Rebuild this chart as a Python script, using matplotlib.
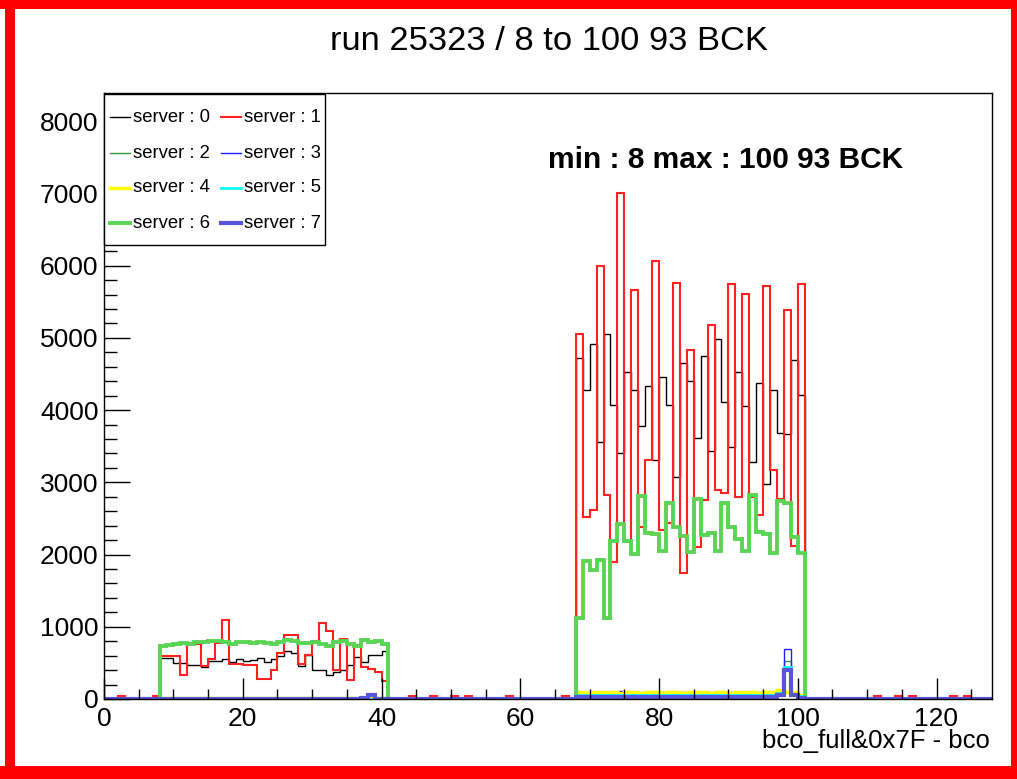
import numpy as np
import matplotlib
matplotlib.use('Agg')
import matplotlib.pyplot as plt
from matplotlib.lines import Line2D
from matplotlib.patches import Rectangle

plt.rcParams['font.family'] = ['Liberation Sans', 'DejaVu Sans']

W, H = 1017, 779
nbins = 128
edges = np.arange(nbins + 1)
left_start = 8      # first filled bin of the low block
right_start = 68    # first filled bin of the high block

# ---- bin contents (bins 8..40 and 68..100) ----
srv0_left = [565, 565, 495, 495, 472, 472, 449, 528, 528, 551, 509, 551, 520, 540, 574, 519, 551,
             597, 667, 643, 458, 611, 403, 403, 333, 380, 403, 472, 588, 519, 611, 611, 667]
srv0_right = [4715, 4282, 4910, 3553, 5048, 4077, 3407, 4525, 4282, 3773, 4333, 3310, 4460, 4077, 3071, 4655, 4398,
              3616, 4750, 3440, 4986, 4106, 3486, 4523, 4051, 3282, 4370, 2977, 4282, 3681, 3662, 4699, 4208]

srv1_left = [600, 600, 600, 330, 760, 760, 450, 550, 780, 1100, 480, 480, 470, 470, 270, 270, 400,
             643, 889, 889, 481, 611, 806, 1051, 935, 403, 829, 264, 750, 440, 412, 380, 250]
srv1_right = [5050, 2520, 2610, 5990, 2820, 1890, 7000, 2170, 5660, 2380, 3310, 6060, 2340, 2440, 5760, 1750, 4830,
              2100, 2760, 5180, 2900, 2850, 5740, 2790, 5610, 2790, 2550, 5720, 3170, 2770, 5390, 2120, 5740]
srv1_stray_bins = [2, 7, 44, 47, 50, 52, 58, 66, 111, 114, 116, 122, 124]
srv1_stray = [35, 35, 35, 35, 35, 35, 35, 35, 35, 35, 35, 35, 35]

srv2_left = [5, 5, 5, 5, 5, 5, 5, 5, 5, 5, 5, 5, 5, 5, 5, 5, 5,
             5, 5, 5, 5, 5, 5, 5, 5, 5, 5, 5, 5, 5, 5, 5, 5]
srv2_right = [60, 60, 70, 60, 60, 70, 60, 60, 70, 60, 60, 70, 60, 60, 70, 60, 60,
              60, 70, 60, 60, 60, 70, 60, 60, 70, 60, 60, 40, 60, 520, 60, 50]

srv3_left = [5, 10, 15, 15, 10, 5, 5, 5, 5, 5, 5, 5, 5, 5, 5, 5, 15,
             15, 5, 5, 5, 5, 15, 5, 5, 5, 5, 5, 5, 5, 20, 20, 5]
srv3_right = [80, 50, 90, 60, 90, 80, 110, 100, 60, 80, 100, 80, 90, 60, 100, 90, 80,
              100, 90, 70, 80, 90, 100, 80, 60, 80, 90, 100, 60, 90, 694, 80, 60]

srv4_left = [18, 18, 18, 18, 18, 18, 18, 18, 18, 18, 18, 18, 18, 18, 18, 18, 18,
             18, 18, 18, 18, 18, 18, 18, 18, 18, 18, 18, 18, 18, 18, 18, 18]
srv4_right = [90, 80, 90, 100, 90, 90, 80, 90, 90, 80, 90, 90, 80, 90, 90, 80, 90,
              90, 90, 80, 90, 90, 80, 90, 90, 90, 80, 90, 90, 130, 90, 90, 60]

srv5_left = [3, 3, 3, 3, 3, 3, 3, 3, 3, 3, 3, 3, 3, 3, 3, 3, 3,
             3, 3, 3, 3, 3, 3, 3, 3, 3, 3, 3, 3, 3, 3, 3, 3]
srv5_right = [50, 50, 50, 50, 50, 50, 50, 50, 50, 50, 50, 50, 50, 50, 50, 50, 50,
              50, 50, 50, 50, 50, 50, 50, 50, 50, 50, 50, 50, 80, 440, 60, 40]

srv6_left = [730, 750, 760, 770, 760, 790, 790, 800, 800, 790, 760, 790, 790, 780, 790, 770, 760,
             790, 810, 800, 780, 770, 790, 760, 730, 790, 800, 760, 740, 820, 790, 800, 760]
srv6_right = [1120, 1907, 1792, 1921, 1120, 2181, 2417, 2181, 2009, 2815, 2292, 2278, 2051, 2718, 2380, 2250, 2035,
              2773, 2264, 2292, 2051, 2718, 2380, 2213, 2051, 2819, 2310, 2278, 2018, 2741, 2718, 2240, 2023]

srv7_left = [0, 0, 0, 0, 0, 0, 0, 0, 0, 0, 0, 0, 0, 0, 0, 0, 0,
             0, 0, 0, 0, 0, 0, 0, 0, 0, 0, 0, 0, 15, 55, 0, 0]
srv7_right = [30, 30, 30, 30, 30, 30, 30, 30, 30, 30, 30, 30, 30, 30, 30, 30, 30,
              30, 30, 30, 30, 30, 30, 30, 30, 30, 30, 30, 30, 60, 400, 50, 20]

servers = ['0', '1', '2', '3', '4', '5', '6', '7']
colors = ['#000000', '#ff2020', '#339933', '#2020ff', '#ffff00', '#00ffff', '#59d454', '#5954d9']
widths = [1.0, 1.5, 1.0, 1.0, 2.5, 2.0, 2.8, 3.0]


def build(left, right, stray_bins=None, stray=None):
    h = np.zeros(nbins)
    h[left_start:left_start + len(left)] = left
    h[right_start:right_start + len(right)] = right
    if stray_bins is not None:
        h[stray_bins] = stray
    return h


hists = [build(srv0_left, srv0_right),
         build(srv1_left, srv1_right, srv1_stray_bins, srv1_stray),
         build(srv2_left, srv2_right),
         build(srv3_left, srv3_right),
         build(srv4_left, srv4_right),
         build(srv5_left, srv5_right),
         build(srv6_left, srv6_right),
         build(srv7_left, srv7_right)]

fig = plt.figure(figsize=(W / 100, H / 100), dpi=100)
ax = fig.add_axes([104 / W, 1 - 699 / H, 888 / W, 606 / H])

for h, c, lw in zip(hists, colors, widths):
    ax.stairs(h, edges, color=c, lw=lw, baseline=0)

ax.set_xlim(0, 128)
ax.set_ylim(0, 8390)
ax.set_xticks(np.arange(0, 121, 20))
ax.set_xticks(np.arange(0, 128, 5), minor=True)
ax.set_yticks(np.arange(0, 8001, 1000))
ax.set_yticks(np.arange(0, 8390, 200), minor=True)
ax.tick_params(axis='both', which='both', direction='in', width=1, colors='black',
               labelsize=19, top=False, right=False)
ax.tick_params(axis='x', which='major', length=15, pad=6)
ax.tick_params(axis='x', which='minor', length=7)
ax.tick_params(axis='y', which='major', length=19, pad=4)
ax.tick_params(axis='y', which='minor', length=9.5)
for s in ax.spines.values():
    s.set_linewidth(1)

ax.text(0.5, 0.889, 'min : 8 max : 100 93 BCK', transform=ax.transAxes,
        fontsize=21.5, fontweight='bold', ha='left', va='center')

fig.text(990 / W, 1 - 741 / H, 'bco_full&0x7F - bco', fontsize=18.5, ha='right', va='center')
fig.text(549 / W, 1 - 42 / H, 'run 25323 / 8 to 100 93 BCK', fontsize=24.8, ha='center', va='center')

# legend box in ROOT style, 2 columns
fig.add_artist(Rectangle((104 / W, 1 - 245 / H), 221 / W, 151 / H, transform=fig.transFigure,
                         facecolor='white', edgecolor='black', lw=1, zorder=5))
rows = [117, 153, 188, 223]
for i, name in enumerate(servers):
    row, col = divmod(i, 2)
    x0 = 110 if col == 0 else 221
    y = 1 - rows[row] / H
    fig.add_artist(Line2D([x0 / W, (x0 + 20) / W], [y, y], transform=fig.transFigure,
                          color=colors[i], lw=widths[i], zorder=6))
    fig.text((x0 + 23) / W, y, 'server : ' + name, fontsize=13.3, ha='left', va='center', zorder=6)

# red canvas border
border = [(5, 0, 10, 779), (0, 0, 1017, 9), (1011, 0, 6, 779), (0, 766, 1017, 13)]
for x, y, w, hh in border:
    fig.add_artist(Rectangle((x / W, 1 - (y + hh) / H), w / W, hh / H, transform=fig.transFigure,
                             facecolor='#ff0000', edgecolor='none', zorder=7))

fig.savefig('out.png', dpi=100)
